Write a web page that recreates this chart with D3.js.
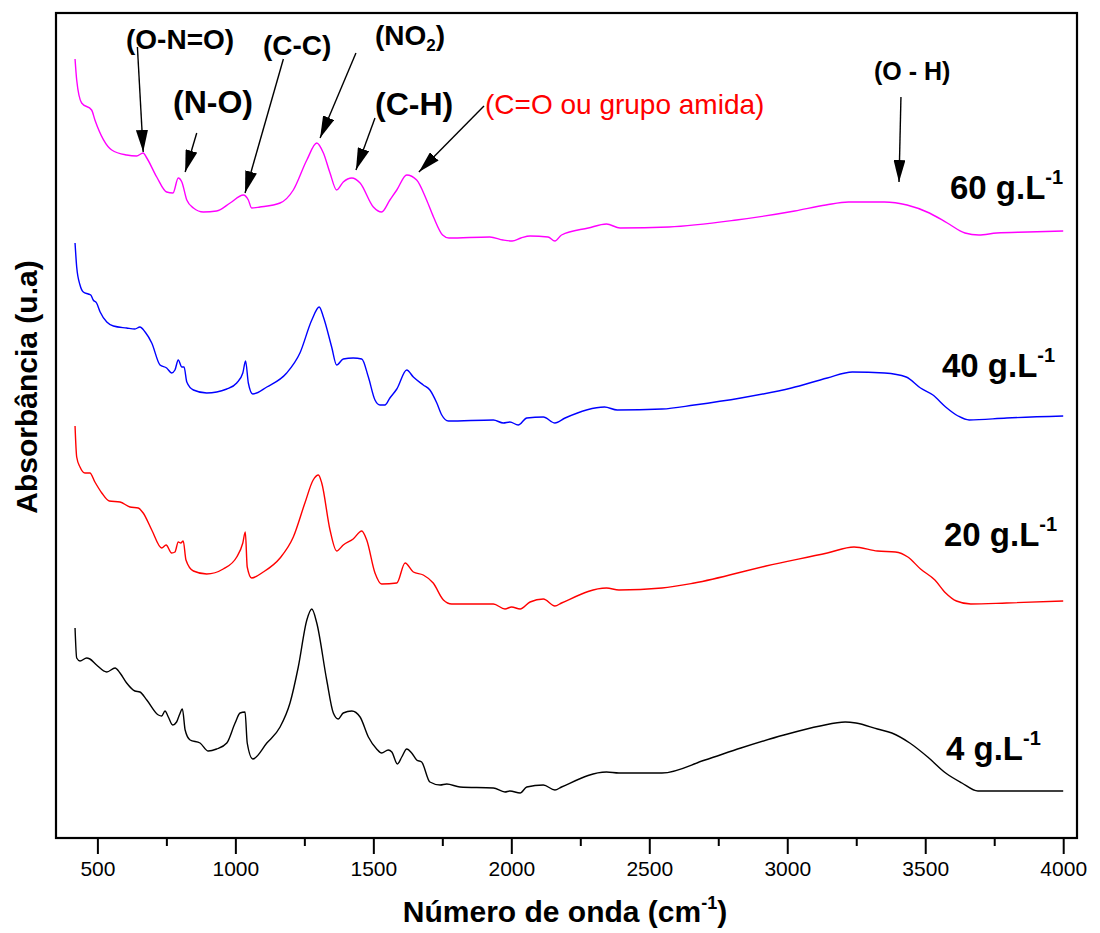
<!DOCTYPE html>
<html>
<head>
<meta charset="utf-8">
<script src="https://cdn.jsdelivr.net/npm/d3@7"></script>
<style>
  html, body { margin: 0; padding: 0; background: #fff; }
  svg { display: block; font-family: "Liberation Sans", Arial, sans-serif; }
</style>
</head>
<body>
<svg id="chart" width="1100" height="933"></svg>
<script>
// ---- Data (wavenumber cm-1, absorbance a.u. with vertical offsets as in the figure) ----
const wn60 = [419,425,443,479,491,552,606,642,666,679,715,751,774,793,806,824,848,884,932,981,1029,1047,1059,1089,1162,1210,1259,1295,1319,1343,1367,1391,1422,1452,1500,1530,1560,1585,1621,1657,1693,1718,1751,1774,1922,1970,2003,2035,2068,2133,2158,2182,2279,2345,2394,2571,2816,3027,3140,3222,3352,3434,3515,3580,3644,3694,3759,3872,4000];
const ab60 = [7.79,7.58,7.35,7.28,7.18,6.88,6.83,6.82,6.85,6.80,6.61,6.46,6.45,6.60,6.56,6.38,6.30,6.26,6.27,6.35,6.43,6.38,6.30,6.31,6.35,6.48,6.78,6.95,6.85,6.65,6.48,6.56,6.60,6.55,6.31,6.26,6.38,6.48,6.63,6.58,6.38,6.21,6.03,6.00,6.01,5.98,5.97,6.00,6.02,6.01,5.97,6.03,6.10,6.14,6.10,6.11,6.18,6.27,6.33,6.36,6.36,6.33,6.25,6.15,6.05,6.03,6.05,6.06,6.07];

const wn40 = [419,425,437,449,467,476,485,497,510,534,558,606,636,654,673,697,727,751,769,781,793,806,814,824,848,896,969,1005,1027,1037,1047,1063,1114,1186,1234,1277,1304,1319,1349,1367,1391,1427,1458,1482,1506,1524,1542,1560,1585,1621,1645,1681,1705,1730,1748,1772,1935,1971,1995,2025,2056,2116,2158,2195,2338,2384,2546,2663,2832,3015,3145,3236,3353,3431,3483,3528,3574,3619,3659,3795,4000];
const ab40 = [5.95,5.71,5.53,5.46,5.44,5.43,5.38,5.35,5.26,5.16,5.12,5.10,5.09,5.11,5.06,4.95,4.73,4.70,4.65,4.68,4.78,4.71,4.71,4.56,4.48,4.45,4.49,4.55,4.65,4.77,4.55,4.44,4.51,4.65,4.85,5.18,5.31,5.21,4.91,4.73,4.79,4.80,4.79,4.61,4.38,4.33,4.33,4.40,4.49,4.68,4.61,4.53,4.48,4.35,4.23,4.17,4.18,4.15,4.16,4.13,4.20,4.21,4.15,4.20,4.31,4.28,4.29,4.33,4.40,4.50,4.60,4.66,4.65,4.61,4.50,4.43,4.31,4.22,4.18,4.20,4.22];

const wn20 = [419,425,437,455,473,491,516,543,582,618,648,666,697,733,749,769,781,793,802,811,821,848,896,956,1005,1027,1036,1043,1059,1101,1162,1210,1252,1282,1301,1313,1343,1367,1391,1427,1458,1476,1506,1530,1585,1615,1645,1681,1717,1754,1784,1935,1977,2001,2032,2068,2116,2158,2182,2345,2390,2546,2663,2923,3145,3242,3327,3392,3437,3483,3535,3574,3613,3665,3795,4000];
const ab20 = [4.12,3.81,3.71,3.65,3.65,3.56,3.45,3.37,3.36,3.31,3.30,3.25,3.08,2.90,2.93,2.85,2.86,2.96,2.95,2.97,2.78,2.67,2.64,2.69,2.81,2.95,3.06,2.71,2.60,2.66,2.80,3.01,3.35,3.58,3.63,3.55,3.08,2.87,2.93,2.99,3.07,2.98,2.65,2.54,2.55,2.75,2.66,2.63,2.55,2.38,2.34,2.34,2.29,2.31,2.29,2.36,2.39,2.32,2.35,2.50,2.48,2.50,2.55,2.72,2.85,2.91,2.87,2.86,2.81,2.69,2.58,2.45,2.37,2.34,2.35,2.37];

const wn4 = [419,425,437,461,473,497,534,564,582,606,636,654,679,721,733,745,757,773,787,797,808,818,836,872,902,932,969,999,1017,1035,1043,1063,1114,1162,1198,1228,1259,1277,1295,1331,1355,1373,1391,1422,1452,1482,1512,1530,1554,1567,1587,1603,1621,1639,1657,1675,1705,1742,1766,1814,1935,1977,1995,2032,2056,2116,2158,2182,2345,2390,2546,2702,2832,2988,3119,3210,3249,3327,3379,3444,3509,3574,3633,3691,3795,4000];
const ab4 = [2.10,1.80,1.77,1.80,1.79,1.73,1.66,1.70,1.65,1.55,1.47,1.46,1.38,1.23,1.22,1.27,1.21,1.13,1.16,1.23,1.29,1.08,0.98,0.95,0.87,0.89,0.95,1.15,1.25,1.26,0.95,0.79,0.95,1.11,1.35,1.71,2.18,2.29,2.15,1.58,1.25,1.19,1.25,1.27,1.21,1.01,0.89,0.85,0.88,0.86,0.74,0.81,0.89,0.85,0.78,0.76,0.56,0.53,0.54,0.51,0.50,0.46,0.47,0.45,0.51,0.53,0.48,0.51,0.66,0.65,0.65,0.78,0.90,1.03,1.12,1.16,1.15,1.09,1.05,0.95,0.81,0.65,0.55,0.47,0.47,0.47];

const seriesNames = ["60 g.L", "40 g.L", "20 g.L", "4 g.L"];
const seriesColors = ["#ff00ff", "#0000ff", "#ff0000", "#000000"];

const xMajorTicks = [500,1000,1500,2000,2500,3000,3500,4000];
const xMinorTicks = [750,1250,1750,2250,2750,3250,3750];

// Annotation arrows: [label, from wavenumber, from absorbance, to wavenumber, to absorbance]
const arrowFromW = [645, 860, 1174, 1437, 1506, 1901, 3412];
const arrowFromA = [7.91, 7.05, 7.79, 7.85, 7.20, 7.32, 7.41];
const arrowToW   = [666, 818, 1035, 1307, 1437, 1665, 3405];
const arrowToA   = [6.86, 6.66, 6.45, 7.00, 6.68, 6.66, 6.56];

// ---- Layout ----
const svg = d3.select("#chart");
const L = 56, R = 1077, T = 13, B = 838;
const x = d3.scaleLinear().domain([350, 4050]).range([L, R]);
const y = d3.scaleLinear().domain([0, 8.25]).range([B, T]);
const FONT = '"Liberation Sans", Arial, sans-serif';

// Series
const seriesW = [wn60, wn40, wn20, wn4];
const seriesA = [ab60, ab40, ab20, ab4];
const line = d3.line().x(d => x(d[0])).y(d => y(d[1])).curve(d3.curveMonotoneX);
seriesW.forEach((ws, i) => {
  const pts = ws.map((w, j) => [w, seriesA[i][j]]);
  svg.append("path").datum(pts)
    .attr("d", line)
    .attr("fill", "none")
    .attr("stroke", seriesColors[i])
    .attr("stroke-width", 1.4)
    .attr("stroke-linejoin", "round");
});

// Frame
svg.append("rect")
  .attr("x", L).attr("y", T).attr("width", R - L).attr("height", B - T)
  .attr("fill", "none").attr("stroke", "#000").attr("stroke-width", 2.2);

// X axis
const gx = svg.append("g").attr("transform", `translate(0,${B})`);
gx.call(d3.axisBottom(x).tickValues(xMajorTicks).tickSize(16).tickPadding(7).tickFormat(d3.format("d")));
gx.select(".domain").remove();
gx.selectAll(".tick line").attr("stroke", "#000").attr("stroke-width", 2);
gx.selectAll(".tick text").attr("font-family", FONT).attr("font-size", 21).attr("fill", "#000");

const gxm = svg.append("g").attr("transform", `translate(0,${B})`);
gxm.call(d3.axisBottom(x).tickValues(xMinorTicks).tickSize(8).tickFormat(""));
gxm.select(".domain").remove();
gxm.selectAll(".tick line").attr("stroke", "#000").attr("stroke-width", 2);

// Axis titles
const xt = svg.append("text")
  .attr("x", 565).attr("y", 922)
  .attr("text-anchor", "middle")
  .attr("font-family", FONT).attr("font-weight", "bold").attr("font-size", 30);
xt.append("tspan").text("Número de onda (cm");
xt.append("tspan").attr("font-size", 18).attr("dy", -13).text("-1");
xt.append("tspan").attr("dy", 13).text(")");

svg.append("text")
  .attr("transform", "translate(37,387) rotate(-90)")
  .attr("text-anchor", "middle")
  .attr("font-family", FONT).attr("font-weight", "bold").attr("font-size", 30)
  .text("Absorbância (u.a)");

// Series labels
const labelX = [950, 942, 944, 946];
const labelY = [199, 377, 546, 760];
seriesNames.forEach((n, i) => {
  const t = svg.append("text")
    .attr("x", labelX[i]).attr("y", labelY[i])
    .attr("font-family", FONT).attr("font-weight", "bold").attr("font-size", 33);
  t.append("tspan").text(n);
  t.append("tspan").attr("font-size", 20).attr("dy", -15).text("-1");
});

// Arrow marker
const defs = svg.append("defs");
defs.append("marker")
  .attr("id", "ah")
  .attr("viewBox", "0 0 22 12")
  .attr("refX", 22).attr("refY", 6)
  .attr("markerWidth", 22).attr("markerHeight", 12)
  .attr("markerUnits", "userSpaceOnUse")
  .attr("orient", "auto")
  .append("path").attr("d", "M0,0 L22,6 L0,12 Z").attr("fill", "#000");

arrowFromW.forEach((w, i) => {
  svg.append("line")
    .attr("x1", x(w)).attr("y1", y(arrowFromA[i]))
    .attr("x2", x(arrowToW[i])).attr("y2", y(arrowToA[i]))
    .attr("stroke", "#000").attr("stroke-width", 1.4)
    .attr("marker-end", "url(#ah)");
});

// Annotation texts
function ann(tx, ty, size, txt, color, bold) {
  return svg.append("text").attr("x", tx).attr("y", ty)
    .attr("font-family", FONT).attr("font-size", size)
    .attr("font-weight", bold ? "bold" : "normal")
    .attr("fill", color).text(txt);
}
ann(126, 49, 28, "(O-N=O)", "#000", true);
ann(263, 55, 28, "(C-C)", "#000", true);
const no2 = svg.append("text").attr("x", 375).attr("y", 45)
  .attr("font-family", FONT).attr("font-size", 28).attr("font-weight", "bold");
no2.append("tspan").text("(NO");
no2.append("tspan").attr("font-size", 17).attr("dy", 6).text("2");
no2.append("tspan").attr("dy", -6).text(")");
ann(173, 113, 32, "(N-O)", "#000", true);
ann(375, 115, 32, "(C-H)", "#000", true);
ann(485, 114, 28, "(C=O ou grupo amida)", "#ff0000", false);
ann(874, 80, 25, "(O - H)", "#000", true);
</script>
</body>
</html>
